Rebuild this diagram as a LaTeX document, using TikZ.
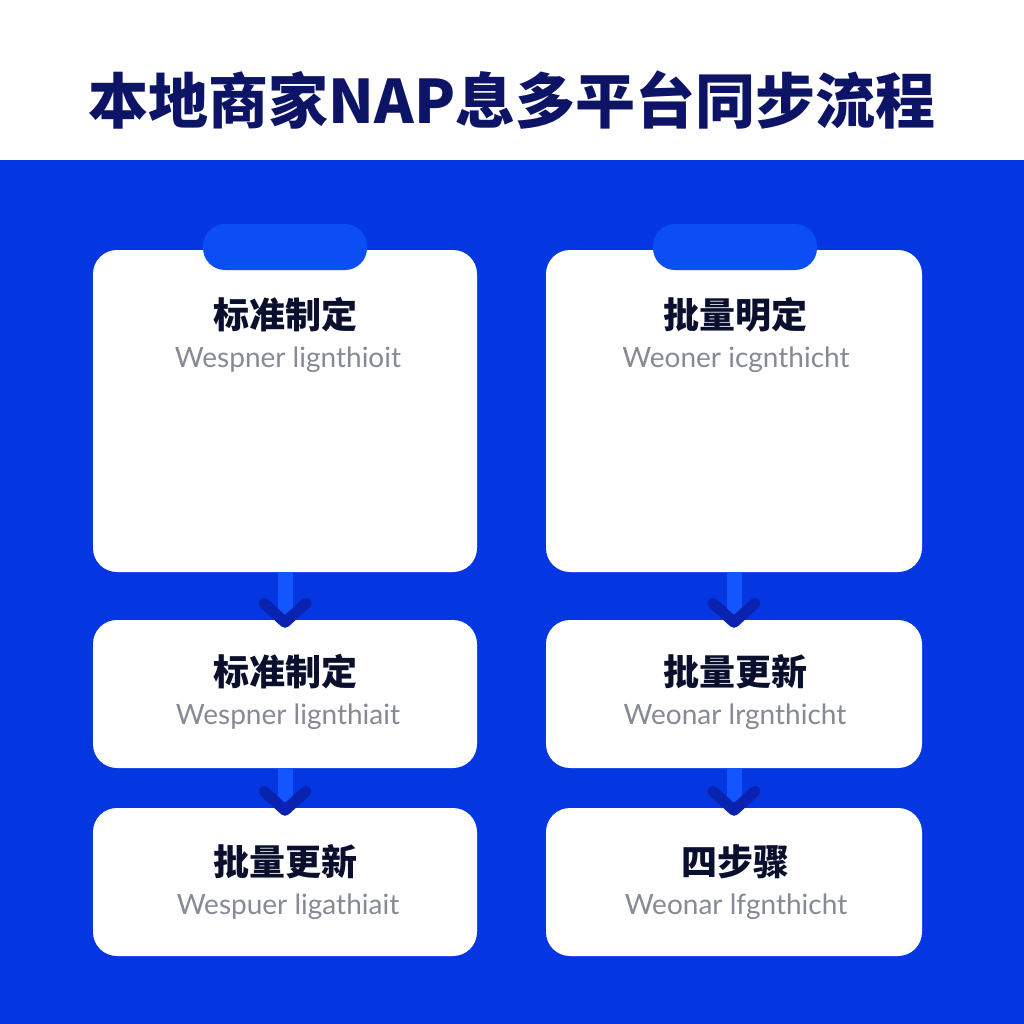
\documentclass[tikz,border=0pt]{standalone}
\usepackage{fontspec}
\newfontfamily\cjk{Noto Sans CJK SC}
\newfontfamily\subfont{Lato}
\usetikzlibrary{arrows.meta,positioning}
\definecolor{bgBlue}{HTML}{0437E2}
\definecolor{tabBlue}{HTML}{0A4EF4}
\definecolor{shaftBlue}{HTML}{1356FF}
\definecolor{chevBlue}{HTML}{0A22B0}
\definecolor{titleNavy}{HTML}{0D1466}
\definecolor{inkNavy}{HTML}{0B0F2E}
\definecolor{subGray}{HTML}{868A94}
\tikzset{
card/.style={shape=rectangle, fill=white, rounded corners=24pt, inner sep=0pt},
tabpill/.style={shape=rectangle, fill=tabBlue, rounded corners=22pt, inner sep=0pt,
    minimum width=164pt, minimum height=46pt},
flow/.style={draw=shaftBlue, line width=15pt, shorten >=-8pt,
    -{Straight Barb[color=chevBlue, length=19pt, width=42pt, line width=11pt, round]}}
}

\begin{document}
\begin{tikzpicture}[x=1pt,y=-1pt]
		\tikzset{ttl/.style = {inner sep=0pt, text=inkNavy, font=\cjk\bfseries\fontsize{36}{40}\selectfont}}
		\tikzset{sub/.style = {inner sep=0pt, text=subGray, font=\subfont\fontsize{28}{32}\selectfont}}

		\useasboundingbox (0,0) rectangle (1024,1024);
		\fill[white] (0,0) rectangle (1024,160);
		\fill[bgBlue] (0,160) rectangle (1024,1024);

		\node[inner sep=0pt, text=titleNavy, font=\cjk\bfseries\fontsize{60}{66}\selectfont] (head) at (512,100) {本地商家NAP息多平台同步流程};

		\node[card, minimum width=384pt, minimum height=322pt] (S_1) at (285,411) {};
		\node[card, minimum width=384pt, minimum height=148pt] (S_2) at (285,694) {};
		\node[card, minimum width=384pt, minimum height=148pt] (S_3) at (285,882) {};
		\node[card, minimum width=376pt, minimum height=322pt] (S_4) at (734,411) {};
		\node[card, minimum width=376pt, minimum height=148pt] (S_5) at (734,694) {};
		\node[card, minimum width=376pt, minimum height=148pt] (S_6) at (734,882) {};

		\node[tabpill] (T_1) at (285,247) {};
		\node[tabpill] (T_4) at (735,247) {};

		\draw[flow] (S_1) to (S_2);
		\draw[flow] (S_2) to (S_3);
		\draw[flow] (S_4) to (S_5);
		\draw[flow] (S_5) to (S_6);

		\node[ttl] (L_1) at (285,315) {标准制定};
		\node[sub] (D_1) at (288,360) {Wespner lignthioit};
		\node[ttl] (L_2) at (285,672) {标准制定};
		\node[sub] (D_2) at (288,717) {Wespner lignthiait};
		\node[ttl] (L_3) at (285,862) {批量更新};
		\node[sub] (D_3) at (288,907) {Wespuer ligathiait};
		\node[ttl] (L_4) at (735,315) {批量明定};
		\node[sub] (D_4) at (736,360) {Weoner icgnthicht};
		\node[ttl] (L_5) at (735,672) {批量更新};
		\node[sub] (D_5) at (735,717) {Weonar lrgnthicht};
		\node[ttl] (L_6) at (735,862) {四步骤};
		\node[sub] (D_6) at (736,907) {Weonar lfgnthicht};
	\end{tikzpicture}
\end{document}
